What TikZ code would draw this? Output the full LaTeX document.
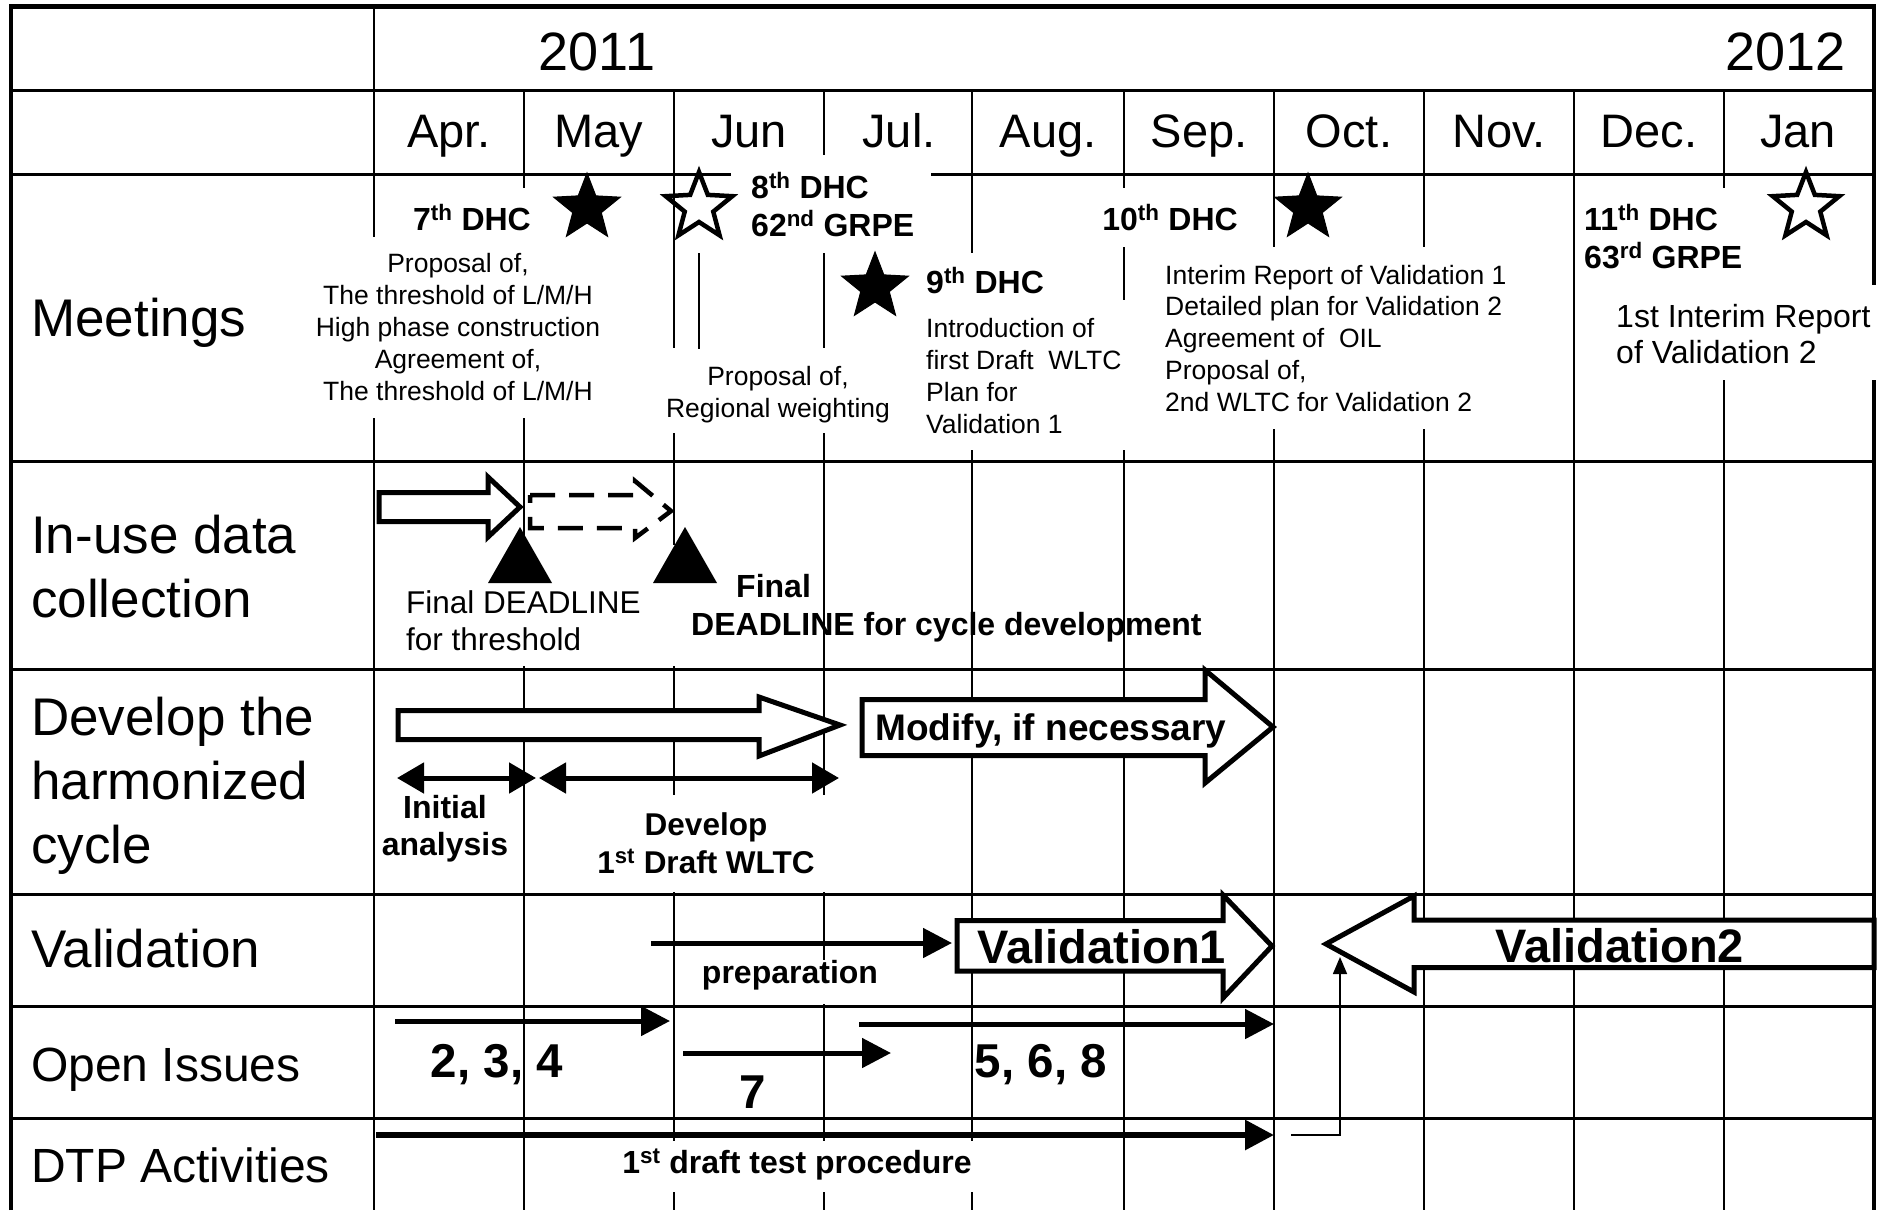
\documentclass[tikz,border=0pt]{standalone}
\usepackage{fontspec}
\setmainfont{Liberation Sans}
\usetikzlibrary{arrows.meta}
\newcommand{\fsz}[2]{\fontsize{#1}{#2}\selectfont}
\tikzset{
  mystar/.pic={
    \path[pic actions] (-90:35) -- (-54:15) -- (-18:35) -- (18:15) -- (54:35) -- (90:15)
      -- (126:35) -- (162:15) -- (198:35) -- (234:15) -- cycle;
  }
}
\begin{document}
\begin{tikzpicture}[x=1pt,y=-1pt,line join=miter,
  hl/.style={line width=3pt},
  vl/.style={line width=2pt},
  bd/.style={line width=4.5pt},
  cover/.style={fill=white},
  rowlbl/.style={anchor=base west,inner sep=0pt,align=left,font=\fsz{53}{64}},
  yr/.style={inner sep=0pt,font=\fsz{54}{64}},
  mon/.style={anchor=base,inner sep=0pt,font=\fsz{47}{56}},
  ttl/.style={inner sep=0pt,align=left,font=\fsz{32}{38}\bfseries},
  desc/.style={inner sep=0pt,font=\fsz{26.5}{32}},
  bt/.style={inner sep=0pt},
  num/.style={inner sep=0pt,anchor=base,font=\fsz{47.5}{56}\bfseries},
  blk/.style={draw,fill=white,line width=5pt},
  tipline/.style={line width=5pt,-{Triangle[length=29pt,width=29pt]}},
  dbl/.style={line width=5pt,{Triangle[length=27pt,width=30pt]}-{Triangle[length=27pt,width=30pt]}},
  filledstar/.style={fill=black,draw,line width=1pt},
  openstar/.style={draw,line width=4.5pt}
]
\useasboundingbox (0,0) rectangle (1881,1210);
\fill[white] (0,0) rectangle (1881,1210);

% ---------- grid ----------
\foreach \yy in {90,174,461,669,894,1006,1118}
  \draw[hl] (11,\yy) -- (1874,\yy);
\foreach \xx in {524,674,824,972,1124,1274,1424,1574,1724}
  \draw[vl] (\xx,90) -- (\xx,1210);
\draw[vl] (374,6) -- (374,1210);
\draw[bd] (11,1210) -- (11,6.5) -- (1874,6.5) -- (1874,1210);

% ---------- white covers (text boxes) ----------
\fill[cover] (395,188) rectangle (560,237);
\fill[cover] (315,237) rectangle (605,418);
\fill[cover] (731,155) rectangle (931,253);
\fill[cover] (660,348) rectangle (895,433);
\fill[cover] (915,253) rectangle (1100,300);
\fill[cover] (915,300) rectangle (1135,450);
\fill[cover] (1095,188) rectangle (1245,247);
\fill[cover] (1150,247) rectangle (1520,429);
\fill[cover] (1578,188) rectangle (1760,285);
\fill[cover] (1600,285) rectangle (1881,380);
\fill[cover] (383,545) rectangle (683,666);
\fill[cover] (590,795) rectangle (850,892);
\fill[cover] (700,960) rectangle (880,1004);
\fill[cover] (600,1141) rectangle (990,1192);

% ---------- header ----------
\node[yr,anchor=base] (y2011) at (597,70) {2011};
\node[yr,anchor=base east] (y2012) at (1846,70) {2012};
\node[mon] (mApr) at (449,147) {Apr.};
\node[mon] (mMay) at (599,147) {May};
\node[mon] (mJun) at (749,147) {Jun};
\node[mon] (mJul) at (899,147) {Jul.};
\node[mon] (mAug) at (1048,147) {Aug.};
\node[mon] (mSep) at (1199,147) {Sep.};
\node[mon] (mOct) at (1349,147) {Oct.};
\node[mon] (mNov) at (1499,147) {Nov.};
\node[mon] (mDec) at (1649,147) {Dec.};
\node[mon] (mJan) at (1798,147) {Jan};

% ---------- row labels (base = last line) ----------
\node[rowlbl] (rMeet) at (31,336) {Meetings};
\node[rowlbl] (rInuse) at (31,617) {In-use data\\collection};
\node[rowlbl] (rDev) at (31,863) {Develop the\\harmonized\\cycle};
\node[rowlbl] (rVal) at (31,967) {Validation};
\node[rowlbl,font=\fsz{48}{58}] (rOpen) at (31,1081) {Open Issues};
\node[rowlbl,font=\fsz{48}{58}] (rDtp) at (31,1182) {DTP Activities};

% ---------- meetings ----------
\draw[vl] (699,253) -- (699,349);
\pic[filledstar] (s7) at (587,208) {mystar};
\pic[openstar] (s8) at (699,207) {mystar};
\pic[filledstar] (s9) at (875,287) {mystar};
\pic[filledstar] (s10) at (1308,208) {mystar};
\pic[openstar] (s11) at (1806,207) {mystar};

\node[ttl,anchor=base] (t7) at (472,230) {7\textsuperscript{th} DHC};
\node[ttl,anchor=base west] (t8) at (751,236) {8\textsuperscript{th} DHC\\62\textsuperscript{nd} GRPE};
\node[ttl,anchor=base west] (t9) at (926,293) {9\textsuperscript{th} DHC};
\node[ttl,anchor=base] (t10) at (1170,230) {10\textsuperscript{th} DHC};
\node[ttl,anchor=base west] (t11) at (1584,268) {11\textsuperscript{th} DHC\\63\textsuperscript{rd} GRPE};

\node[desc,align=center,anchor=base] (d7) at (458,400)
  {Proposal of,\\The threshold of L/M/H\\High phase construction\\Agreement of,\\The threshold of L/M/H};
\node[desc,align=center,anchor=base] (d8) at (778,417) {Proposal of,\\Regional weighting};
\node[desc,align=left,anchor=base west] (d9) at (926,433)
  {Introduction of\\first Draft\ \ WLTC\\Plan for\\Validation 1};
\node[desc,align=left,anchor=base west,font=\fsz{26.5}{31.7}] (d10) at (1165,411)
  {Interim Report of Validation 1\\Detailed plan for Validation 2\\Agreement of\ \ OIL\\Proposal of,\\2nd WLTC for Validation 2};
\node[bt,align=left,anchor=base west,font=\fsz{32}{36}] (d11) at (1616,363)
  {1st Interim Report\\of Validation 2};

% ---------- in-use data ----------
\draw[line width=5pt,fill=white] (379,492.5) -- (488,492.5) -- (488,477) -- (520,507)
  -- (488,537) -- (488,521.5) -- (379,521.5) -- cycle;
\draw[line width=4.5pt,dash pattern=on 25pt off 14pt] (530,495) -- (635,495) -- (635,481)
  -- (671,511) -- (635,538) -- (635,528) -- (530,528) -- cycle;
\fill (520,527) -- (552,583) -- (488,583) -- cycle;
\fill (685,527) -- (717,583) -- (653,583) -- cycle;
\node[bt,align=left,anchor=base west,font=\fsz{31.5}{37}] (fdt) at (406,650)
  {Final DEADLINE\\for threshold};
\node[ttl,anchor=base west] (fin) at (736,597) {Final};
\node[ttl,anchor=base west] (fdc) at (691,635) {DEADLINE for cycle development};

% ---------- develop ----------
\draw[blk] (398,710.5) -- (759,710.5) -- (759,697) -- (840,725) -- (759,756)
  -- (759,739.5) -- (398,739.5) -- cycle;
\draw[blk] (862,699.5) -- (1205,699.5) -- (1205,670) -- (1273,727) -- (1205,783)
  -- (1205,755.5) -- (862,755.5) -- cycle;
\node[bt,anchor=base,font=\fsz{37}{44}\bfseries] (mod) at (1051,740) {Modify, if necessary};
\coordinate (ia1) at (397,778);
\coordinate (ia2) at (536,778);
\coordinate (dv1) at (539,778);
\coordinate (dv2) at (839,778);
\draw[dbl] (ia1) -- (ia2);
\draw[dbl] (dv1) -- (dv2);
\node[bt,align=center,anchor=base,font=\fsz{32}{37}\bfseries] (ini) at (445,855) {Initial\\analysis};
\node[bt,align=center,anchor=base,font=\fsz{31.5}{38}\bfseries] (dev) at (706,873)
  {Develop\\1\textsuperscript{st} Draft WLTC};

% ---------- validation ----------
\coordinate (pr1) at (651,943);
\coordinate (pr2) at (952,943);
\draw[tipline] (pr1) -- (pr2);
\node[bt,anchor=base,font=\fsz{32}{38}\bfseries] (prep) at (790,983) {preparation};
\draw[blk] (957,920.5) -- (1223,920.5) -- (1223,895) -- (1272,946) -- (1223,998)
  -- (1223,971) -- (957,971) -- cycle;
\node[bt,anchor=base,font=\fsz{47}{56}\bfseries] (v1) at (1102,963) {Validation1};
\draw[blk] (1874,920) -- (1414,920) -- (1414,896) -- (1326,944) -- (1414,992)
  -- (1414,967.5) -- (1874,967.5) -- cycle;
\node[bt,anchor=base,font=\fsz{47}{56}\bfseries] (v2) at (1620,962) {Validation2};

% ---------- open issues ----------
\coordinate (o1a) at (395,1021);
\coordinate (o1b) at (670,1021);
\coordinate (o2a) at (683,1053);
\coordinate (o2b) at (891,1053);
\coordinate (o3a) at (859,1024);
\coordinate (o3b) at (1274,1024);
\draw[tipline] (o1a) -- (o1b);
\draw[tipline] (o2a) -- (o2b);
\draw[tipline] (o3a) -- (o3b);
\node[num] (n234) at (497,1077) {2, 3, 4};
\node[num] (n7) at (753,1108) {7};
\node[num] (n568) at (1041,1077) {5, 6, 8};

% ---------- DTP ----------
\coordinate (dt1) at (376,1135);
\coordinate (dt2) at (1274,1135);
\draw[tipline,line width=6pt] (dt1) -- (dt2);
\node[bt,anchor=base,font=\fsz{32}{38}\bfseries] (dtp) at (797,1173)
  {1\textsuperscript{st} draft test procedure};
\coordinate (cn1) at (1291,1135);
\coordinate (cn2) at (1340,1135);
\coordinate (cn3) at (1340,957);
\draw[line width=1.5pt,-{Triangle[length=17pt,width=14pt]}] (cn1) -- (cn2) -- (cn3);
\end{tikzpicture}
\end{document}
